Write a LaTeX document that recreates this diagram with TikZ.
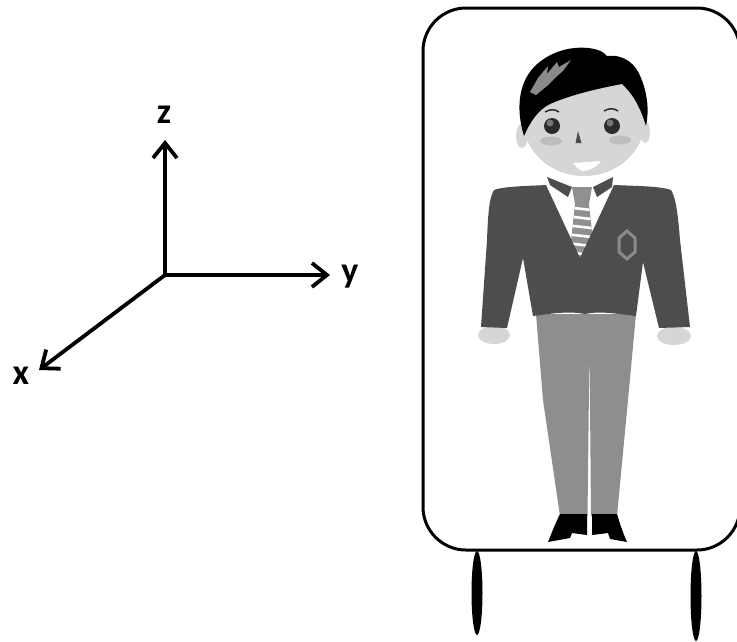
\documentclass[tikz,border=0pt]{standalone}
\usepackage{fontspec}
\newfontfamily\axisfont{Carlito}
\usetikzlibrary{arrows.meta}

\definecolor{jacket}{HTML}{4D4D4D}
\definecolor{trousers}{HTML}{8E8E8E}
\definecolor{skin}{HTML}{D6D6D6}
\definecolor{cheek}{HTML}{BDBDBD}
\definecolor{tiegrey}{HTML}{909090}
\definecolor{hairhl}{HTML}{8A8A8A}
\definecolor{eyedark}{HTML}{2B2B2B}
\definecolor{badge}{HTML}{8A8A8A}

\tikzset{
  axisarrow/.style={line width=3.8pt, line cap=round, -{Straight Barb[length=15pt,width=24pt]}},
  axislabel/.style={font=\axisfont\bfseries\fontsize{36}{36}\selectfont, inner sep=0pt, anchor=base},
  framebox/.style={line width=3pt},
  wheel/.style={fill=black},
}

\begin{document}
\begin{tikzpicture}[x=1pt,y=-1pt]
\useasboundingbox (0,0) rectangle (737,641);
\fill[white] (-5,-5) rectangle (745,650);
\clip (0,0) rectangle (737,641);

% ---- coordinate axes ----
\coordinate (O) at (165,275);
\coordinate (zend) at (165,140);
\coordinate (yend) at (330,275);
\coordinate (xend) at (39,370);
\draw[axisarrow] (O) -- (zend);
\draw[axisarrow] (O) -- (yend);
\draw[axisarrow] (O) -- (xend);
\node[axislabel] (zlab) at (164,123) {z};
\node[axislabel] (ylab) at (350,282) {y};
\node[axislabel] (xlab) at (21,384) {x};

% ---- frame: rounded corners of radius 43, right side beyond the edge ----
\coordinate (frameNE) at (740,51);
\coordinate (frameSE) at (740,507);
\draw[framebox] (frameNE) .. controls (740,27.3) and (720.7,8) .. (697,8)
  -- (466,8) .. controls (442.3,8) and (423,27.3) .. (423,51)
  -- (423,507) .. controls (423,530.7) and (442.3,550) .. (466,550)
  -- (697,550) .. controls (720.7,550) and (740,530.7) .. (frameSE);
\fill[wheel] (477,593) ellipse [x radius=5.5pt, y radius=42pt];
\fill[wheel] (696,596) ellipse [x radius=5.5pt, y radius=45pt];

% ---- figure: hands ----
\fill[skin] (494,335) ellipse [x radius=16pt, y radius=9pt];
\fill[skin] (674,336) ellipse [x radius=17pt, y radius=9pt];

% trousers with the gap between the legs
\fill[trousers] (536,314) -- (636,314) -- (628,400) -- (617,516) -- (591,516)
  -- (589.5,345) -- (587.5,516) -- (560,516) -- (543,400) -- cycle;

% shoes
\fill[black] (560,514) -- (587,514) -- (587,535) -- (572,533) -- (570,538)
  -- (548,542) .. controls (552,532) and (556,522) .. (560,514) -- cycle;
\fill[black] (592,514) -- (617,514) .. controls (620,524) and (623,533) .. (627,542)
  -- (610,539) -- (608,533) -- (592,535) -- cycle;

% tie
\fill[tiegrey] (572,187) -- (592,187) -- (589,204) -- (575,204) -- cycle;
\begin{scope}
  \clip (575,204) -- (589,204) -- (594,250) -- (582,262) -- (570,250) -- cycle;
  \fill[tiegrey] (560,200) rectangle (600,265);
  \foreach \yy in {209,218,227,236,245,254}
    \draw[white, line width=2.6pt] (565,\yy-2) -- (600,\yy+2);
\end{scope}

% jacket with sleeves
\fill[jacket] (494,190) .. controls (505,186) and (530,186) .. (546,185)
  -- (580,258) -- (614,185) .. controls (635,186) and (660,186) .. (671,190)
  .. controls (676,198) and (678,215) .. (680,240) -- (690,327) -- (659,328)
  -- (643,262) -- (636,316) .. controls (610,313) and (600,311) .. (585,314)
  .. controls (570,311) and (555,313) .. (533,316) -- (523,258) -- (507,328)
  -- (481,327) -- (487,240) .. controls (488,215) and (489,198) .. (494,190) -- cycle;

% collar points
\fill[jacket] (547,177) -- (572,187) -- (568,197) -- (550,185) -- cycle;
\fill[jacket] (613,177) -- (612,187) -- (597,197) -- (593,187) -- cycle;

% badge
\draw[badge, line width=3pt] (627,231) -- (635,238) -- (635,252) -- (627,259)
  -- (619,252) -- (619,238) -- cycle;

% ---- head ----
\fill[skin] (522,136) ellipse [x radius=6pt, y radius=12pt];
\fill[skin] (645,132) ellipse [x radius=5pt, y radius=11pt];
\fill[skin] (584,120) ellipse [x radius=61pt, y radius=56pt];

% hair
\fill[black] (524,136) .. controls (516,110) and (518,84) .. (534,67)
  .. controls (548,53) and (568,46) .. (588,48)
  .. controls (598,49) and (604,52) .. (607,56)
  .. controls (624,54) and (636,64) .. (641,78)
  .. controls (648,95) and (649,112) .. (646,126)
  .. controls (641,110) and (635,96) .. (622,84)
  .. controls (600,88) and (570,95) .. (550,104)
  .. controls (538,110) and (530,122) .. (524,136) -- cycle;
\fill[hairhl] (530,92) -- (538,78) -- (548,66) -- (547,74) -- (557,62) -- (559,67)
  -- (571,60) -- (563,71) -- (556,77) -- (547,86) -- (536,95) -- cycle;

% eyebrows
\draw[eyedark, line width=1.5pt] (545,112) .. controls (550,109) and (555,109) .. (559,112);
\draw[eyedark, line width=1.5pt] (604,111) .. controls (609,108) and (614,108) .. (618,111);

% eyes
\fill[eyedark] (552,126) circle [radius=8pt];
\fill[eyedark] (612,126) circle [radius=8pt];
\fill[white!35!eyedark] (550,123) circle [radius=3.5pt];
\fill[white!35!eyedark] (610,123) circle [radius=3.5pt];

% cheeks, nose, mouth
\fill[cheek] (551,141) ellipse [x radius=11pt, y radius=4.5pt];
\fill[cheek] (620,140) ellipse [x radius=11pt, y radius=4.5pt];
\fill[eyedark!85] (578,131) -- (575.5,143) -- (581.5,143) -- cycle;
\fill[white] (573,163) -- (601,161) .. controls (596,168) and (588,171) .. (582,171)
  .. controls (578,169) and (575,166) .. (573,163) -- cycle;
\end{tikzpicture}
\end{document}
